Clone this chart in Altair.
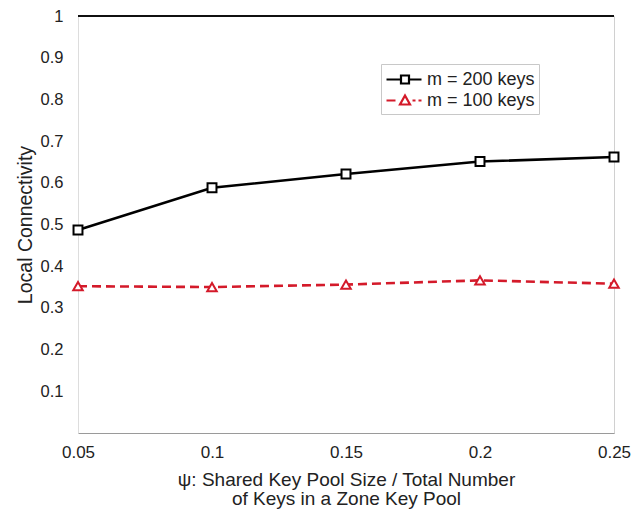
import altair as alt
import pandas as pd

# Shared key pool ratio (x) and local connectivity for each key-ring size
psi = [0.05, 0.10, 0.15, 0.20, 0.25]
conn_200 = [0.487, 0.588, 0.621, 0.651, 0.662]
conn_100 = [0.352, 0.350, 0.356, 0.366, 0.358]
series_names = ["m = 200 keys", "m = 100 keys"]
series_colors = ["#000000", "#d41a2a"]

y_ticks = [0.1, 0.2, 0.3, 0.4, 0.5, 0.6, 0.7, 0.8, 0.9, 1.0]

rows = []
for x, v in zip(psi, conn_200):
    rows.append({"psi": x, "conn": v, "series": series_names[0]})
for x, v in zip(psi, conn_100):
    rows.append({"psi": x, "conn": v, "series": series_names[1]})
df = pd.DataFrame(rows)

FONT = "Liberation Sans"
TEXT = "#222222"

# Legend glyphs: a line segment with the marker drawn on it (unit = half symbol width)
legend_black = "M-1,0H0.45M1.25,0H2.5M0.45,-0.4H1.25V0.4H0.45Z"
legend_red = "M-1,0H-0.1M1.6,0H1.9M2.2,0H2.5M0.85,-0.5L1.35,0.4H0.35Z"

x_enc = alt.X(
    "psi:Q",
    scale=alt.Scale(domain=[0.05, 0.25], nice=False, zero=False),
    axis=alt.Axis(
        values=psi,
        format="~g",
        title=["\u03c8: Shared Key Pool Size / Total Number", "of Keys in a Zone Key Pool"],
        titleFont=FONT,
        titleFontSize=19,
        titleFontWeight="normal",
        titleColor=TEXT,
        titleLineHeight=19,
        titlePadding=10,
        labelFont=FONT,
        labelFontSize=17,
        labelColor=TEXT,
        labelPadding=11,
        ticks=False,
        grid=False,
        domainColor="#9a9a9a",
        labelFlush=False,
    ),
)
y_enc = alt.Y(
    "conn:Q",
    scale=alt.Scale(domain=[0, 1], nice=False),
    axis=alt.Axis(
        values=y_ticks,
        format="~g",
        title="Local Connectivity",
        titleFont=FONT,
        titleFontSize=19.5,
        titleFontWeight="normal",
        titleColor=TEXT,
        titlePadding=5,
        labelFont=FONT,
        labelFontSize=16.5,
        labelColor=TEXT,
        labelPadding=15,
        ticks=False,
        grid=False,
        domainColor="#dddddd",
    ),
)

base = alt.Chart(df).encode(x=x_enc, y=y_enc)
s200 = base.transform_filter(alt.datum.series == series_names[0])
s100 = base.transform_filter(alt.datum.series == series_names[1])

line_200 = s200.mark_line(color=series_colors[0], strokeWidth=2.6)
line_100 = s100.mark_line(color=series_colors[1], strokeWidth=2.6, strokeDash=[9, 5])

squares = s200.mark_point(
    shape="square", size=80, filled=True, fill="white",
    stroke=series_colors[0], strokeWidth=2, opacity=1,
)
triangles = s100.mark_point(
    shape="triangle-up", size=90, filled=True, fill="white",
    stroke=series_colors[1], strokeWidth=2, opacity=1,
)

legend_cfg = alt.Legend(
    title=None,
    orient="none",
    legendX=303,
    legendY=48,
    padding=4,
    strokeColor="#c8c8c8",
    fillColor="white",
    labelFont=FONT,
    labelFontSize=18,
    labelColor=TEXT,
    labelOffset=19,
    symbolSize=400,
    symbolStrokeWidth=2.2,
    symbolOpacity=1,
    symbolFillColor="white",
    rowPadding=-1,
)

legend_layer = base.mark_point(opacity=0, filled=False).encode(
    color=alt.Color("series:N", scale=alt.Scale(domain=series_names, range=series_colors), legend=legend_cfg),
    shape=alt.Shape(
        "series:N",
        scale=alt.Scale(domain=series_names, range=[legend_black, legend_red]),
        legend=legend_cfg,
    ),
)

top_edge = alt.Chart(df).mark_rule(color="#111111", strokeWidth=1.5).encode(y=alt.datum(1))

chart = (
    alt.layer(top_edge, line_200, line_100, squares, triangles, legend_layer)
    .properties(
        width=536,
        height=417,
        padding={"left": 78, "top": 16, "right": 28, "bottom": 84},
        autosize=alt.AutoSizeParams(type="none"),
        background="white",
    )
    .configure_view(stroke="#d0d0d0", strokeWidth=1)
)

chart.save("out.html", embed_options={"renderer": "svg", "actions": False})
